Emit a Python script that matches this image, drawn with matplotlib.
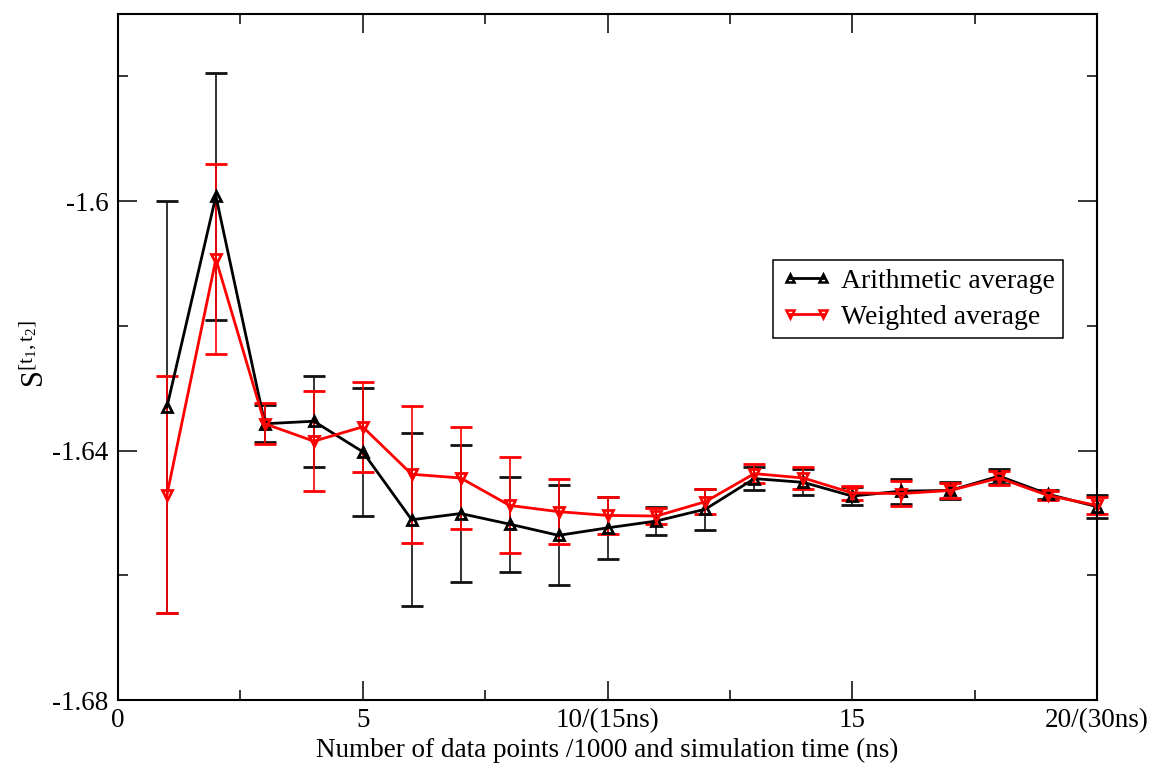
import matplotlib
matplotlib.use("Agg")
import matplotlib.pyplot as plt
from matplotlib.ticker import FixedLocator, MultipleLocator

plt.rcParams['font.family'] = ['Liberation Serif', 'DejaVu Serif']
plt.rcParams['mathtext.fontset'] = 'custom'
plt.rcParams['mathtext.rm'] = 'Liberation Serif'
plt.rcParams['mathtext.it'] = 'Liberation Serif:italic'

x = list(range(1, 21))
arith = [-1.6330, -1.5992, -1.6357, -1.6353, -1.6402, -1.6511, -1.6501, -1.6518,
         -1.6536, -1.6524, -1.6513, -1.6494, -1.6445, -1.6451, -1.6473, -1.6465,
         -1.6464, -1.6441, -1.6470, -1.6490]
arith_err = [0.033, 0.0198, 0.003, 0.0073, 0.0103, 0.0139, 0.011, 0.0076,
             0.008, 0.005, 0.0022, 0.0033, 0.0018, 0.0021, 0.0015, 0.002,
             0.0014, 0.0012, 0.0007, 0.0018]
weighted = [-1.6471, -1.6093, -1.6357, -1.6385, -1.6362, -1.6438, -1.6444, -1.6488,
            -1.6498, -1.6504, -1.6505, -1.6482, -1.6437, -1.6444, -1.6468, -1.6469,
            -1.6464, -1.6444, -1.6472, -1.6488]
weighted_err = [0.019, 0.0152, 0.0033, 0.008, 0.0072, 0.011, 0.0082, 0.0077,
                0.0052, 0.003, 0.0013, 0.002, 0.0015, 0.0017, 0.0011, 0.002,
                0.0012, 0.0012, 0.0007, 0.0014]

xticks = [0, 5, 10, 15, 20]
xticklabels = ['0', '5', '10/(15ns)', '15', '20/(30ns)']
yticks = [-1.68, -1.64, -1.60]
yticklabels = ['-1.68', '-1.64', '-1.6']

fig = plt.figure(figsize=(11.53, 7.68), dpi=100)
ax = fig.add_axes([118/1153, 1-700/768, (1097-118)/1153, (700-14)/768])

eb1 = ax.errorbar(x, arith, yerr=arith_err, color='black', ecolor='#111111',
                  elinewidth=1.2, capsize=7.8, capthick=1.2, lw=2.0,
                  marker='^', ms=7, mfc='none', mew=2.0, label='Arithmetic average',
                  clip_on=False)
eb2 = ax.errorbar(x, weighted, yerr=weighted_err, color='#ff0000', ecolor='#ff0000',
                  elinewidth=1.2, capsize=7.8, capthick=1.2, lw=2.0,
                  marker='v', ms=7, mfc='none', mew=2.0, label='Weighted average',
                  clip_on=False)

ax.set_xlim(0, 20)
ax.set_ylim(-1.68, -1.57)
ax.xaxis.set_major_locator(FixedLocator(xticks))
ax.set_xticklabels(xticklabels)
ax.xaxis.set_minor_locator(MultipleLocator(2.5))
ax.yaxis.set_major_locator(FixedLocator(yticks))
ax.set_yticklabels(yticklabels)
ax.yaxis.set_minor_locator(FixedLocator([-1.66, -1.62, -1.58]))

ax.tick_params(which='both', direction='in', top=True, right=True, width=1.1,
               labelsize=19.5)
ax.tick_params(which='major', length=14)
ax.tick_params(which='minor', length=7)
ax.tick_params(axis='x', pad=6)
ax.tick_params(axis='y', pad=7)
for s in ax.spines.values():
    s.set_linewidth(1.5)

ax.set_xlabel('Number of data points /1000 and simulation time (ns)', fontsize=19.5, labelpad=3)
ax.set_ylabel(r'$\mathrm{S}^{[\mathrm{t}_1,\mathrm{t}_2]}$', fontsize=22)
ax.yaxis.set_label_coords(-0.068, 0.505)

leg = ax.legend([eb1[0], eb2[0]], ['Arithmetic average', 'Weighted average'],
                loc='upper left', bbox_to_anchor=(773/1153, 1-260/768),
                bbox_transform=fig.transFigure, fontsize=20, numpoints=2,
                handlelength=1.8, handletextpad=0.35, fancybox=False,
                framealpha=1, edgecolor='black', borderpad=0.3,
                labelspacing=0.38, borderaxespad=0)
leg.get_frame().set_linewidth(1.1)
for h in leg.get_lines():
    h.set_markersize(5.5)
    h.set_markeredgewidth(1.8)

fig.savefig('out.png', dpi=100)
